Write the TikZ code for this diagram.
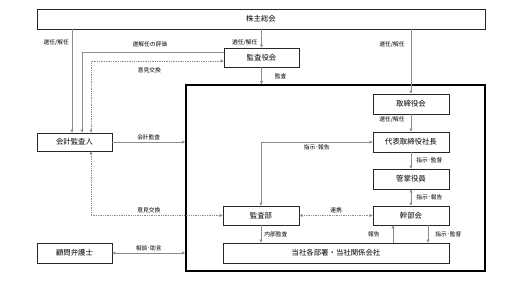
\documentclass[tikz,border=0pt]{standalone}
\usepackage{fontspec}
\newfontfamily\jpfont{Noto Sans CJK JP}
\usetikzlibrary{arrows.meta, positioning}
\tikzset{smalltri/.tip={Triangle[length=2.6pt,width=2.6pt]}}

\begin{document}
\begin{tikzpicture}[
    x=0.03cm, y=-0.03cm,
    box/.style={rectangle, draw=black!85, line width=0.7pt, fill=white, minimum width=2.25cm, minimum height=0.6cm, inner sep=0pt, font=\jpfont\fontsize{6.3}{7}\selectfont},
    frame/.style={rectangle, draw=black, line width=1.6pt, minimum width=8.97cm, minimum height=5.58cm, inner sep=0pt},
    link/.style={draw=black!45, line width=0.5pt, -smalltri},
    link2/.style={link, smalltri-smalltri},
    dlink/.style={link2, densely dotted},
    lbl/.style={font=\jpfont\fontsize{4.9}{5.5}\selectfont, inner sep=1pt}
]
\useasboundingbox (0,0) rectangle (524,292);

% Boxes
\node[box, minimum width=13.44cm] (kabu) at (261,19) {株主総会};
\node[box, minimum height=0.57cm] (kansayaku) at (261.5,57.5) {監査役会};
\node[frame] (grp) at (335.5,178) {};
\node[box, minimum width=2.28cm] (torishimari) at (411,104) {取締役会};
\node[box, minimum width=2.28cm] (shacho) at (411,142) {代表取締役社長};
\node[box, minimum width=2.28cm] (kansho) at (411,179) {管掌役員};
\node[box, minimum width=2.28cm, minimum height=0.57cm] (kanbu) at (411,215.5) {幹部会};
\node[box, minimum width=2.28cm, minimum height=0.57cm] (kansabu) at (261,215.5) {監査部};
\node[box, minimum width=6.78cm] (kakubu) at (336,253) {当社各部署・当社関係会社};
\node[box, minimum height=0.54cm] (kaikei) at (74.5,142) {会計監査人};
\node[box] (komon) at (74.5,253) {顧問弁護士};

% From the shareholders
\draw[link] ([xshift=-0.075cm]kaikei.north |- kabu.south) -- node[lbl, pos=0.13, left=0.05cm] {選任/解任} ([xshift=-0.075cm]kaikei.north);
\draw[link] (kansayaku.north |- kabu.south) -- node[lbl, pos=0.74, left=0.08cm] {選任/解任} (kansayaku.north);
\draw[link] (torishimari.north |- kabu.south) -- node[lbl, pos=0.23, left=0.15cm] {選任/解任} (torishimari.north);

% Audit board
\draw[link] ([yshift=0.165cm]kansayaku.west) -| node[lbl, pos=0.26, above=0.1cm] {選解任の評価} ([xshift=0.225cm]kaikei.north);
\draw[dlink] ([yshift=-0.105cm]kansayaku.west) -| node[lbl, pos=0.28, below=0.17cm] {意見交換} ([xshift=0.495cm]kaikei.north);
\draw[link] (kansayaku.south) -- node[lbl, pos=0.55, right=0.36cm] {監査} (kansayaku.south |- grp.north);

% Executive line
\draw[link] (torishimari) -- node[lbl, pos=0.33, left=0.15cm] {選任/解任} (shacho);
\draw[link] (shacho) -- node[lbl, right=0.12cm] {指示･監督} (kansho);
\draw[link2] (kansho) -- node[lbl, right=0.12cm] {指示･報告} (kanbu);
\draw[link] ([xshift=-0.54cm]kanbu.south |- kakubu.north) -- node[lbl, left=0.36cm] {報告} ([xshift=-0.54cm]kanbu.south);
\draw[link] ([xshift=0.51cm]kanbu.south) -- node[lbl, right=0.18cm] {指示･監督} ([xshift=0.51cm]kanbu.south |- kakubu.north);

% Internal audit
\draw[link2] (kansabu.north) |- node[lbl, pos=0.75, below=0.03cm] {指示･報告} (shacho.west);
\draw[dlink] (kansabu) -- node[lbl, above=0.03cm] {連携} (kanbu);
\draw[link] (kansabu) -- node[lbl, right=0.06cm] {内部監査} (kansabu.south |- kakubu.north);
\draw[dlink] (kansabu.west) -| node[lbl, pos=0.28, above=0.03cm] {意見交換} ([xshift=0.495cm]kaikei.south);

% Outside the company
\draw[link] (kaikei) -- node[lbl, above=0.02cm] {会計監査} (kaikei -| grp.west);
\draw[link2] (komon) -- node[lbl, above=0.02cm] {相談･助言} (komon -| grp.west);

\end{tikzpicture}
\end{document}
